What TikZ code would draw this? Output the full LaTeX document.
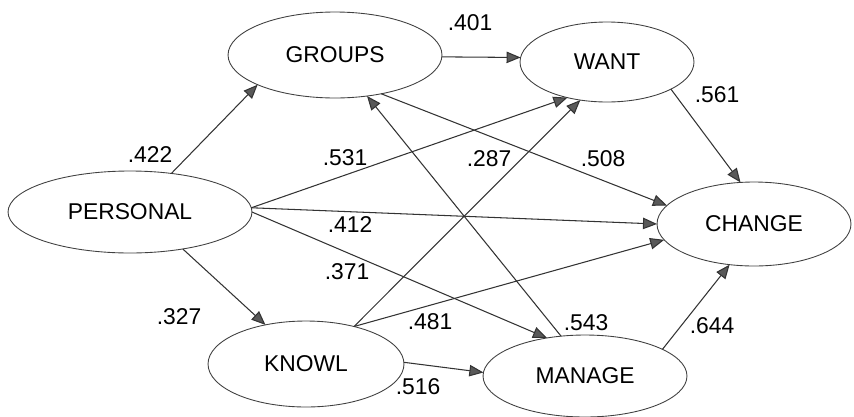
\documentclass[tikz,border=0pt]{standalone}
\usepackage{fontspec}
\setmainfont{Liberation Sans}
\usetikzlibrary{shapes.geometric,arrows.meta}

\begin{document}
\begin{tikzpicture}[x=0.02cm, y=-0.02cm,
    var/.style={ellipse, draw=black!75, line width=0.5pt, inner sep=0pt, outer sep=0pt,
        font=\fontsize{13}{15}\selectfont},
    coef/.style={font=\fontsize{13}{15}\selectfont, inner sep=0pt},
    link/.style={draw=black!80, line width=0.6pt,
        -{Triangle[length=8pt, width=6.5pt, fill=black!65]}}]

    % 画布大小
    \useasboundingbox (0,0) rectangle (854,416);

    % 变量 (椭圆)
    \node[var, minimum width=4.88cm, minimum height=1.64cm] (personal) at (130,212) {PERSONAL};
    \node[var, minimum width=4.28cm, minimum height=1.72cm] (groups) at (335,55) {GROUPS};
    \node[var, minimum width=3.48cm, minimum height=1.60cm] (want) at (607,62) {WANT};
    \node[var, minimum width=3.88cm, minimum height=1.68cm] (change) at (754,224) {CHANGE};
    \node[var, minimum width=3.92cm, minimum height=1.72cm] (knowl) at (306,364) {KNOWL};
    \node[var, minimum width=4.08cm, minimum height=1.64cm] (manage) at (585,376) {MANAGE};

    % 路径箭头
    \draw[link] (personal.43) -- (groups.201); % .422
    \draw[link] (personal.2) -- (want.-138); % .531
    \draw[link] (personal.2) -- (change.180); % .412
    \draw[link] (personal.0) -- (manage.135); % .371
    \draw[link] (personal.-35) -- (knowl.136); % .327
    \draw[link] (groups.-1) -- (want.177); % .401
    \draw[link] (groups.-40) -- (change.168); % .508
    \draw[link] (want.-23) -- (change.108); % .561
    \draw[link] (knowl.38) -- (want.-125); % .287
    \draw[link] (knowl.38) -- (change.-170); % .481
    \draw[link] (knowl.1) -- (manage.178); % .516
    \draw[link] (manage.121) -- (groups.-52); % .543
    \draw[link] (manage.19) -- (change.-121); % .644

    % 路径系数
    \node[coef] (c422) at (150,155) {.422};
    \node[coef] (c531) at (345,158) {.531};
    \node[coef] (c401) at (470,23) {.401};
    \node[coef] (c561) at (717,95) {.561};
    \node[coef] (c287) at (489,159) {.287};
    \node[coef] (c508) at (603,159) {.508};
    \node[coef] (c412) at (350,225) {.412};
    \node[coef] (c371) at (347,272) {.371};
    \node[coef] (c327) at (179,317) {.327};
    \node[coef] (c481) at (430,322) {.481};
    \node[coef] (c543) at (586,323) {.543};
    \node[coef] (c644) at (712,326) {.644};
    \node[coef] (c516) at (418,387) {.516};
\end{tikzpicture}
\end{document}
